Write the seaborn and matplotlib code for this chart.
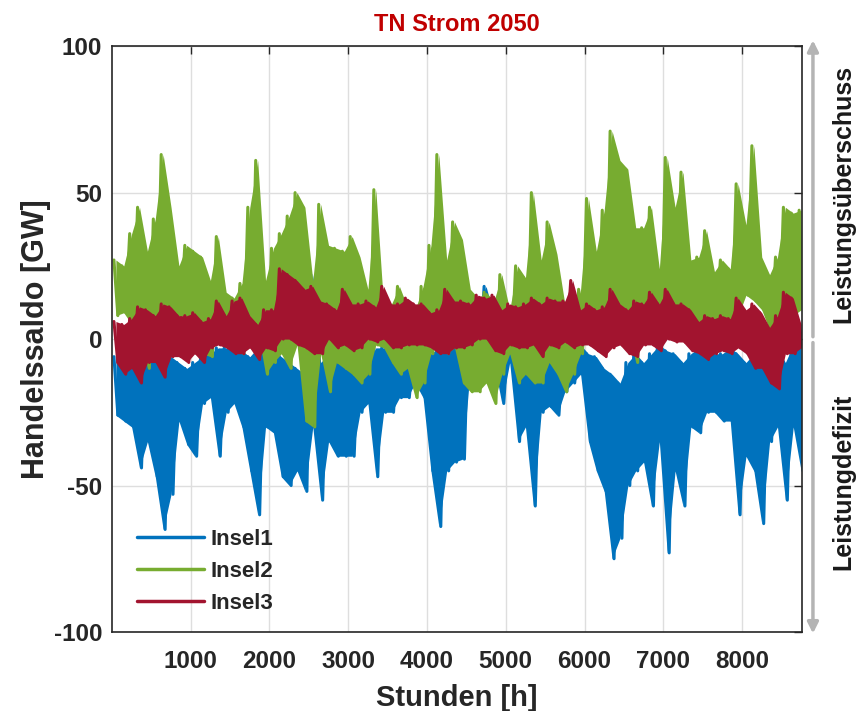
import matplotlib
matplotlib.use("Agg")
import matplotlib.pyplot as plt
import matplotlib.transforms as mtransforms
from matplotlib.lines import Line2D
import numpy as np
import pandas as pd
import seaborn as sns

# 100 h bins over the year, upper / lower envelope (GW)
bin_start = np.arange(0, 8800, 100)

insel1_hi = [-6, -7, -8, -6, -3, -6, -5, -6, -8, -10, -8,
             -6, -5, -3, -3, -4, -4, -6, -3, -5, -4, -6,
             -8, -10, -12, 22, -8, -5, -5, -3, -5, -7, -8,
             -3, -3, -3, -3, -5, -5, -5, -5, -3, 0, -2,
             -3, 7, 10, 18, 8, 5, 0, -3, -5, -4,
             -5, -8, -5, -5, -4, -2, -5, -6, -10, -12, -15,
             -8, -5, -8, -5, -2, -4, -5, -8, -5, -3, -3,
             -5, -5, -3, -5, -8, -5, -5, -3, -3, -8, -2, 0]
insel1_lo = [-26, -28, -30, -44, -35, -47, -65, -53, -28, -36, -40,
             -22, -20, -40, -25, -22, -30, -45, -60, -30, -32, -47,
             -50, -45, -52, -30, -55, -35, -40, -40, -40, -25, -22,
             -47, -25, -25, -20, -20, -15, -20, -45, -64, -45, -42,
             -41, -10, -8, -5, -8, -22, -8, -35, -30, -57,
             -25, -23, -26, -18, -15, -12, -35, -45, -52, -75, -68,
             -50, -45, -42, -57, -35, -73, -45, -57, -30, -32, -25,
             -25, -28, -28, -60, -40, -45, -63, -35, -30, -55, -30, -45]

insel2_hi = [27, 25, 36, 45, 30, 41, 63, 45, 25, 32, 30,
             28, 20, 35, 16, 14, 19, 45, 61, 20, 31, 36,
             42, 50, 45, 20, 46, 32, 31, 30, 35, 28, 17,
             51, 11, 12, 18, 11, 10, 18, 32, 63, 27, 40,
             34, 17, 14, 16, 13, 22, 10, 25, 21, 50,
             27, 40, 29, 12, 7, 17, 48, 30, 44, 71, 61,
             58, 38, 38, 45, 24, 62, 45, 57, 27, 28, 37,
             23, 27, 24, 53, 39, 66, 28, 22, 28, 45, 43, 44]
insel2_lo = [8, 9, 5, 5, -10, 5, 10, 8, 8, 8, 8,
             -5, -6, 2, 0, -3, -5, 3, 3, -12, -8, -5,
             -10, -2, -28, -30, -5, -18, -8, -10, -12, -15, -12,
             -2, -3, -8, -12, -10, -20, -15, -5, 0, -5, -3,
             -15, -18, -18, -15, -22, -12, -5, -15, -12, -15,
             -15, -8, -12, -18, -12, -5, 2, 3, 0, 10, 8,
             5, -8, 5, 3, -2, 6, 10, 8, 8, 5, 0,
             5, 7, 5, 8, 15, 13, 10, 3, 3, 5, 8, 10]

insel3_hi = [6, 5, 7, 11, 10, 8, 12, 11, 8, 8, 9,
             6, 7, 13, 8, 13, 14, 8, 5, 10, 10, 24,
             22, 20, 17, 18, 13, 12, 10, 17, 12, 12, 13,
             11, 18, 12, 12, 14, 12, 12, 9, 10, 17, 13,
             13, 12, 15, 14, 15, 10, 12, 11, 12, 14,
             12, 14, 13, 13, 20, 10, 12, 10, 11, 17, 12,
             10, 13, 12, 16, 12, 17, 12, 12, 10, 6, 8,
             7, 8, 7, 14, 10, 12, 9, 4, 8, 16, 14, 5]
insel3_lo = [-8, -12, -10, -15, -8, -8, -13, -6, -6, -8, -5,
             -8, -3, -2, -3, -5, -5, -3, -7, -3, -4, 0,
             0, -2, -3, -5, -5, 0, -3, -2, -4, -3, 0,
             -1, 0, -3, -3, -2, -2, -2, -3, -5, -5, -3,
             -3, -2, 0, 0, -4, -5, -2, -3, -3, -2,
             -6, -2, -3, -1, -3, -2, -2, -4, -6, -3, -2,
             -5, -6, -2, -2, -4, 0, -1, -1, -4, -5, -7,
             -5, -4, -5, -3, -5, -10, -10, -15, -17, -5, -5, -3]

serien = ["Insel1", "Insel2", "Insel3"]
farben = {"Insel1": "#0072BD", "Insel2": "#77AC30", "Insel3": "#A2142F"}
daten = {"Insel1": (insel1_hi, insel1_lo),
         "Insel2": (insel2_hi, insel2_lo),
         "Insel3": (insel3_hi, insel3_lo)}


def band_frame(hi, lo):
    # both envelope values at the bin centre -> band spans min..max
    return pd.DataFrame({"Stunde": list(bin_start + 50) * 2,
                         "GW": list(hi) + list(lo)})


def zigzag_frame(hi, lo):
    # hourly swing drawn as high/low pairs inside each bin
    xs, ys = [], []
    for b, h, l in zip(bin_start, hi, lo):
        xs += [b + 25, b + 75]
        ys += [h, l]
    return pd.DataFrame({"Stunde": xs, "GW": ys})


sns.set_style("white")
plt.rcParams['font.family'] = ['Liberation Sans', 'DejaVu Sans']
plt.rcParams['font.weight'] = 'bold'
plt.rcParams['axes.unicode_minus'] = False

fig = plt.figure(figsize=(8.56, 7.11), dpi=100)
ax = fig.add_axes([0.1308, 0.1111, 0.806, 0.824])

for k, name in enumerate(serien):
    hi, lo = daten[name]
    z = 3 + 2 * k
    sns.lineplot(data=band_frame(hi, lo), x="Stunde", y="GW", estimator="mean",
                 errorbar=lambda v: (v.min(), v.max()), color=farben[name],
                 err_kws={"alpha": 1.0, "linewidth": 0, "zorder": z},
                 linewidth=0, zorder=z, ax=ax)
    sns.lineplot(data=zigzag_frame(hi, lo), x="Stunde", y="GW", estimator=None,
                 color=farben[name], linewidth=2.2, zorder=z + 1, ax=ax)

ax.set_xlim(0, 8760)
ax.set_ylim(-100, 100)
ax.set_xticks(range(1000, 9000, 1000))
ax.set_yticks([-100, -50, 0, 50, 100])
ax.grid(True, color="#dedede", linewidth=1.0)
ax.set_axisbelow(True)
ax.tick_params(direction="in", top=True, right=True, length=6, width=1,
               labelsize=17.5, colors="#262626")
ax.tick_params(axis="x", pad=13)
ax.tick_params(axis="y", pad=7)
for lab in ax.get_xticklabels() + ax.get_yticklabels():
    lab.set_fontweight("bold")
for sp in ax.spines.values():
    sp.set_color("#262626")
    sp.set_linewidth(1.2)
    sp.set_zorder(10)

ax.set_xlabel("Stunden [h]", fontsize=21, fontweight="bold", color="#262626", labelpad=8)
ax.set_ylabel("Handelssaldo [GW]", fontsize=22, fontweight="bold", color="#262626", labelpad=2)
ax.set_title("TN Strom 2050", fontsize=17, fontweight="bold", color="#C00000", pad=11)

handles = [Line2D([], [], color=farben[n], linewidth=2.5) for n in serien]
ax.legend(handles, serien, loc="upper left", bbox_to_anchor=(0.008, 0.21),
          frameon=False, handlelength=3.0, handletextpad=0.3,
          labelspacing=0.5, prop={"weight": "bold", "size": 16}).set_zorder(20)

# gray arrows on the right side
trans = mtransforms.blended_transform_factory(ax.transAxes, ax.transData)
arrow_kw = dict(arrowstyle="-|>", color="#b4b4b4", lw=2.5, mutation_scale=16,
                shrinkA=0, shrinkB=0)
ax.annotate("", xy=(1.016, 102), xytext=(1.016, 0.8), xycoords=trans,
            textcoords=trans, arrowprops=arrow_kw, annotation_clip=False)
ax.annotate("", xy=(1.016, -100.5), xytext=(1.016, -1.2), xycoords=trans,
            textcoords=trans, arrowprops=arrow_kw, annotation_clip=False)

fig.text(0.985, 0.727, "Leistungsüberschuss", rotation=90, ha="center", va="center",
         fontsize=18, fontweight="bold", color="#1a1a1a")
fig.text(0.985, 0.322, "Leistungdefizit", rotation=90, ha="center", va="center",
         fontsize=18, fontweight="bold", color="#1a1a1a")

fig.savefig("out.png", dpi=100)
